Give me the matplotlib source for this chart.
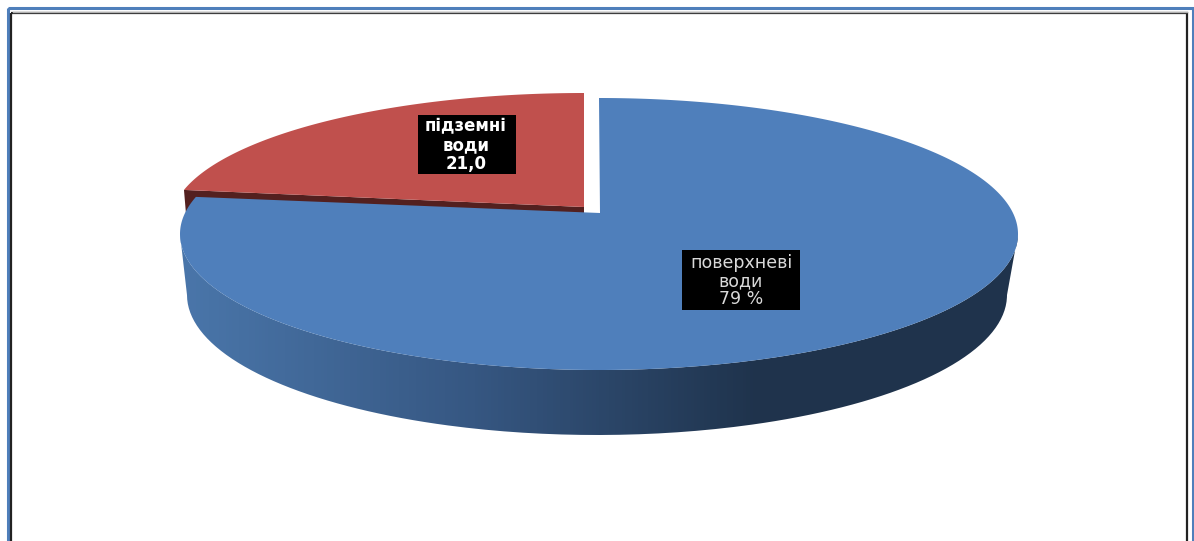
import numpy as np
import matplotlib
matplotlib.use('Agg')
import matplotlib.pyplot as plt
from matplotlib.patches import Polygon, Rectangle, PathPatch
from matplotlib.path import Path
from matplotlib.colors import LinearSegmentedColormap

categories = ['поверхневі\nводи\n79 %', 'підземні\nводи\n21,0']
values = [79, 21]

W, H = 1194, 541
BLUE = '#4f7fbb'
RED = '#c0504d'

# cumulative angles, clockwise from 12 o'clock
ends = np.cumsum(values) / np.sum(values) * 2 * np.pi
blue_end = ends[0]
red_end = ends[1]


def rim(cx, cy, a, b, t0, t1, n=200):
    t = np.linspace(t0, t1, n)
    return np.column_stack([cx + a * np.sin(t), cy - b * np.cos(t)])


fig = plt.figure(figsize=(W / 100, H / 100), dpi=100)
ax = fig.add_axes([0, 0, 1, 1])
ax.set_xlim(0, W)
ax.set_ylim(H, 0)
ax.axis('off')

# frame
ax.add_patch(Rectangle((7.5, 8), W - 9, H, fill=False, ec=BLUE, lw=2.2))
ax.add_patch(Rectangle((11, 13), W - 18, H, fill=False, ec='#222222', lw=1.6))
ax.plot([12.5, W - 7], [11.5, 11.5], color='#b0b0b0', lw=1)

# red slice (pulled out), dark side first
red_rim = rim(584, 222, 413, 129, blue_end, red_end)
red_apex = np.array([[584, 207]])
ax.add_patch(Polygon(np.vstack([red_rim[0], [186, 214], [584, 214], red_apex[0]]),
                     fc='#53201f', ec='none'))
ax.add_patch(Polygon(np.vstack([red_rim, red_apex]), fc=RED, ec='none'))

# blue slice: side wall with a left to right gradient
top = rim(599, 234, 419, 136, np.pi / 2, 1.5 * np.pi)
low = rim(597, 295, 410, 140, np.pi / 2, 1.5 * np.pi)
wall = np.vstack([top, low[::-1]])
cmap = LinearSegmentedColormap.from_list('wall', [(0, '#4a76aa'), (0.35, '#365782'),
                                                  (0.69, '#1f334c'), (1, '#1f334c')])
img = ax.imshow(np.linspace(0, 1, 256).reshape(1, -1), cmap=cmap, aspect='auto',
                extent=[180, 1018, 440, 230], zorder=2)
ax.set_xlim(0, W)
ax.set_ylim(H, 0)
img.set_clip_path(PathPatch(Path(wall), transform=ax.transData))

# small angle shift for the perspective of the original 3D view
blue_rim = rim(599, 234, 419, 136, 0, blue_end + 0.025, 400)
blue_apex = np.array([[600, 213]])
ax.add_patch(Polygon(np.vstack([blue_rim, blue_apex]), fc=BLUE, ec='none', zorder=3))

# data labels
ax.add_patch(Rectangle((682, 250), 118, 60, fc='black', ec='none', zorder=4))
ax.text(741, 281, categories[0], color='#d9d9d9', ha='center', va='center', fontsize=12.5,
        family='DejaVu Sans', linespacing=1.03, zorder=5)
ax.add_patch(Rectangle((418, 115), 98, 59, fc='black', ec='none', zorder=4))
ax.text(466, 145, categories[1], color='white', ha='center', va='center', fontsize=12,
        family='DejaVu Sans', weight='bold', linespacing=1.05, zorder=5)

fig.savefig('out.png', dpi=100)
